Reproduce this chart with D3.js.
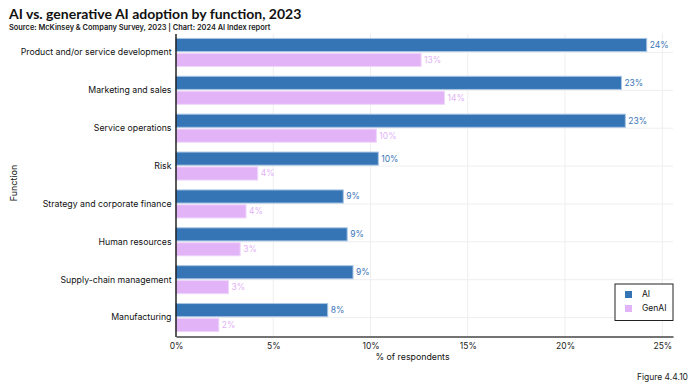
<!DOCTYPE html>
<html><head><meta charset="utf-8">
<script src="https://cdn.jsdelivr.net/npm/d3@7"></script>
<style>
html,body{margin:0;padding:0;background:#fff;}
svg{display:block;font-family:Inter,"Noto Sans",sans-serif;}
</style></head>
<body>
<svg id="chart" width="695" height="385"></svg>
<script>
const categories = ["Product and/or service development","Marketing and sales","Service operations","Risk","Strategy and corporate finance","Human resources","Supply-chain management","Manufacturing"];
const series = ["AI","GenAI"];
const aiValues = [24.2, 22.9, 23.1, 10.4, 8.6, 8.8, 9.1, 7.8];
const genaiValues = [12.6, 13.8, 10.3, 4.2, 3.6, 3.3, 2.7, 2.2];
const xTicks = [0, 5, 10, 15, 20, 25];
const colors = {AI:"#3575b5", GenAI:"#e2b3f7"};
const strokes = {AI:"#a9c5e4", GenAI:"#efd6fb"};
const labelColors = {AI:"#3b76b7", GenAI:"#e2b3f7"};

const svg = d3.select("#chart");
const mLeft = 176, mRight = 673, mTop = 33.5, mBottom = 336.5;

const x = d3.scaleLinear().domain([0, 25.55]).range([mLeft, mRight]);
const y = d3.scaleBand().domain(categories).range([mTop, mBottom]).paddingInner(0.26).paddingOuter(0.13);
const ySub = d3.scaleBand().domain(series).range([0, y.bandwidth()]).paddingInner(0.12);

// title
svg.append("text").attr("x", 9).attr("y", 19).attr("font-size", 14).attr("font-weight", 700).attr("fill", "#111")
  .attr("font-family", "Lato,sans-serif")
  .text("AI vs. generative AI adoption by function, 2023");
svg.append("text").attr("x", 9).attr("y", 29.5).attr("font-size", 7.4).attr("font-weight", 600).attr("fill", "#222")
  .text("Source: McKinsey & Company Survey, 2023 | Chart: 2024 AI Index report");

// vertical grid
svg.append("g").selectAll("line").data(xTicks.slice(1)).join("line")
  .attr("x1", d => x(d)).attr("x2", d => x(d)).attr("y1", mTop).attr("y2", mBottom)
  .attr("stroke", "#eeeeee").attr("stroke-width", 1);
// horizontal grid at category centers
svg.append("g").selectAll("line").data(categories).join("line")
  .attr("x1", mLeft).attr("x2", mRight)
  .attr("y1", d => y(d) + y.bandwidth()/2).attr("y2", d => y(d) + y.bandwidth()/2)
  .attr("stroke", "#eeeeee").attr("stroke-width", 1);

const rows = categories.map((c, i) => ({cat: c, AI: aiValues[i], GenAI: genaiValues[i]}));

const g = svg.append("g");
rows.forEach(r => {
  series.forEach(s => {
    const yy = y(r.cat) + ySub(s);
    g.append("rect").attr("x", x(0)).attr("y", yy).attr("width", x(r[s]) - x(0)).attr("height", ySub.bandwidth())
      .attr("fill", colors[s]).attr("stroke", strokes[s]).attr("stroke-width", 1);
    g.append("text").attr("x", x(r[s]) + 3).attr("y", yy + ySub.bandwidth()/2).attr("dy", "0.35em")
      .attr("font-size", 8.5).attr("fill", labelColors[s]).text(Math.round(r[s]) + "%");
  });
});

// y axis
const yAxis = svg.append("g").attr("transform", `translate(${mLeft - 0.5},0)`)
  .call(d3.axisLeft(y).tickSize(0).tickPadding(4));
yAxis.select(".domain").attr("stroke", "#000").attr("stroke-width", 1.3);
yAxis.selectAll("text").attr("font-size", 8.75).attr("fill", "#111").attr("font-family", "Inter,'Noto Sans',sans-serif");

// x axis
const xAxis = svg.append("g").attr("transform", `translate(0,${mBottom})`)
  .call(d3.axisBottom(x).tickValues(xTicks).tickFormat(d => d + "%").tickSize(0).tickPadding(6));
xAxis.select(".domain").attr("stroke", "#444").attr("stroke-width", 1.5);
xAxis.selectAll("text").attr("font-size", 8.5).attr("fill", "#222").attr("font-family", "Inter,'Noto Sans',sans-serif");

svg.append("text").attr("x", (mLeft + mRight)/2 - 12).attr("y", 360).attr("text-anchor", "middle")
  .attr("font-size", 8.8).attr("fill", "#111").text("% of respondents");
svg.append("text").attr("transform", "translate(17,183) rotate(-90)").attr("text-anchor", "middle")
  .attr("font-size", 9).attr("fill", "#111").text("Function");

// legend
const lg = svg.append("g").attr("transform", "translate(615,284)");
lg.append("rect").attr("width", 58).attr("height", 36.5).attr("fill", "#fff").attr("stroke", "#222").attr("stroke-width", 1);
series.forEach((s, i) => {
  lg.append("rect").attr("x", 10).attr("y", 7 + i*14).attr("width", 7).attr("height", 7).attr("fill", colors[s]);
  lg.append("text").attr("x", 27).attr("y", 10.5 + i*14).attr("dy", "0.35em").attr("font-size", 8.5).attr("fill", "#111").text(s);
});

svg.append("text").attr("x", 688).attr("y", 380).attr("text-anchor", "end").attr("font-size", 8.5).attr("fill", "#222")
  .text("Figure 4.4.10");
</script>
</body></html>
